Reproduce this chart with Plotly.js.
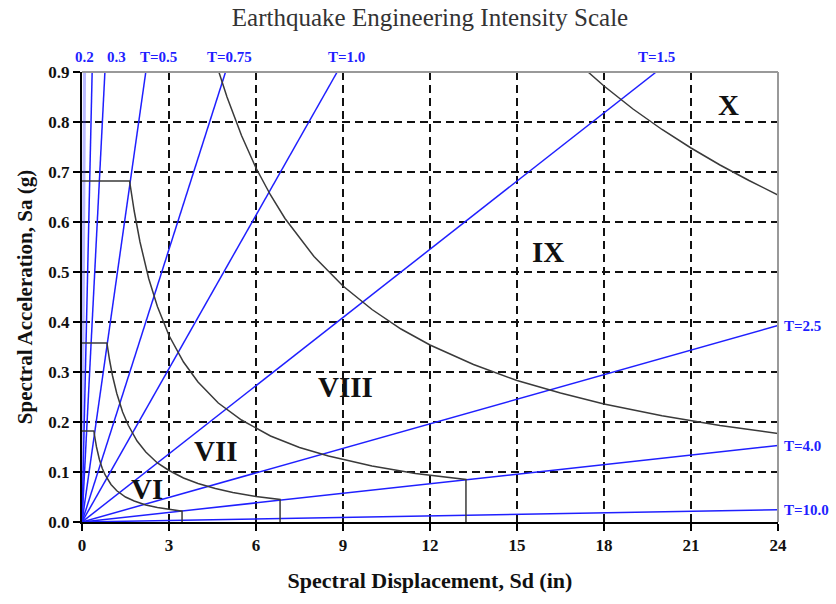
<!DOCTYPE html>
<html>
<head>
<meta charset="utf-8">
<script src="https://cdn.plot.ly/plotly-3.0.1.min.js"></script>
<style>html,body{margin:0;padding:0;background:#fff;}#chart{width:836px;height:604px;}</style>
</head>
<body>
<div id="chart"></div>
<script>
// Period (T) lines: each runs from the origin to its end point
var periodLabels = ['0.2', '0.3', 'T=0.5', 'T=0.75', 'T=1.0', 'T=1.5', 'T=2.5', 'T=4.0', 'T=10.0'];
var periodEndSd = [0.35, 0.79, 2.2, 4.95, 8.8, 19.8, 24, 24, 24];
var periodEndSa = [0.9, 0.9, 0.9, 0.9, 0.9, 0.9, 0.393, 0.153, 0.0245];
// faint unlabeled very short period line near the Sa axis
var faintEndSd = [0.088];
var faintEndSa = [0.9];

// Intensity boundary curves
var curve1Sd = [0, 0.41, 0.45, 0.5, 0.6, 0.7, 0.8, 1.0, 1.2, 1.5, 1.8, 2.2, 2.6, 3.0, 3.45, 3.45];
var curve1Sa = [0.182, 0.182, 0.167, 0.150, 0.125, 0.107, 0.094, 0.075, 0.0625, 0.050, 0.042, 0.034, 0.029, 0.025, 0.0217, 0];
var curve2Sd = [0, 0.86, 0.95, 1.05, 1.2, 1.4, 1.6, 1.9, 2.2, 2.6, 3.0, 3.5, 4.0, 4.6, 5.2, 6.0, 6.83, 6.83];
var curve2Sa = [0.358, 0.358, 0.324, 0.293, 0.257, 0.220, 0.193, 0.162, 0.140, 0.118, 0.103, 0.088, 0.077, 0.067, 0.059, 0.051, 0.045, 0];
var curve3Sd = [0, 1.64, 1.8, 2.0, 2.3, 2.6, 3.0, 3.5, 4.0, 4.7, 5.5, 6.5, 7.5, 8.5, 10, 11.5, 13.24, 13.24];
var curve3Sa = [0.682, 0.682, 0.622, 0.560, 0.487, 0.431, 0.373, 0.320, 0.280, 0.238, 0.204, 0.172, 0.149, 0.132, 0.112, 0.097, 0.085, 0];
var curve4Sd = [4.72, 5.0, 5.5, 6, 6.5, 7, 8, 9, 10, 11, 12, 13.5, 15, 16.5, 18, 20, 22, 24];
var curve4Sa = [0.9, 0.85, 0.773, 0.708, 0.654, 0.607, 0.531, 0.472, 0.425, 0.386, 0.354, 0.315, 0.283, 0.258, 0.236, 0.2125, 0.193, 0.177];
var curve5Sd = [17.45, 18, 19, 20, 21, 22, 23, 24];
var curve5Sa = [0.9, 0.872, 0.826, 0.785, 0.748, 0.714, 0.683, 0.654];

// Intensity zone labels
var zoneLabels = ['VI', 'VII', 'VIII', 'IX', 'X'];
var zoneSd = [2.24, 4.62, 9.07, 16.07, 22.3];
var zoneSa = [0.066, 0.142, 0.27, 0.54, 0.834];

var xTicks = [0, 3, 6, 9, 12, 15, 18, 21, 24];
var yTicks = [0.0, 0.1, 0.2, 0.3, 0.4, 0.5, 0.6, 0.7, 0.8, 0.9];

var SERIF = '"Liberation Serif", "Times New Roman", serif';
var BLUE = '#1f1fff';
var CURVE = '#3a3a3a';

var traces = [];
for (var j = 0; j < faintEndSd.length; j++) {
  traces.push({x: [0, faintEndSd[j]], y: [0, faintEndSa[j]], mode: 'lines',
    line: {color: 'rgba(60,60,255,0.35)', width: 3}, hoverinfo: 'skip', showlegend: false});
}
for (var i = 0; i < periodLabels.length; i++) {
  traces.push({x: [0, periodEndSd[i]], y: [0, periodEndSa[i]], mode: 'lines',
    line: {color: BLUE, width: 1.5}, name: periodLabels[i], showlegend: false});
}
[[curve1Sd, curve1Sa], [curve2Sd, curve2Sa], [curve3Sd, curve3Sa], [curve4Sd, curve4Sa], [curve5Sd, curve5Sa]].forEach(function (c) {
  traces.push({x: c[0], y: c[1], mode: 'lines', line: {color: CURVE, width: 1.5}, showlegend: false});
});

var annotations = [];
var topShift = [-8, 12, 13, 4, 9, 0];
for (var k = 0; k < periodLabels.length; k++) {
  var lab = periodLabels[k];
  var f = {family: SERIF, size: 15, color: BLUE, weight: 'bold'};
  if (periodEndSa[k] >= 0.9) {
    annotations.push({x: periodEndSd[k], y: periodEndSa[k], xref: 'x', yref: 'y', text: '<b>' + lab + '</b>',
      showarrow: false, xanchor: 'center', yanchor: 'bottom', xshift: topShift[k], yshift: 5, font: f});
  } else {
    annotations.push({x: periodEndSd[k], y: periodEndSa[k], xref: 'x', yref: 'y', text: '<b>' + lab + '</b>',
      showarrow: false, xanchor: 'left', yanchor: 'middle', xshift: 4, yshift: 0, font: f});
  }
}
for (var z = 0; z < zoneLabels.length; z++) {
  annotations.push({x: zoneSd[z], y: zoneSa[z], xref: 'x', yref: 'y', text: '<b>' + zoneLabels[z] + '</b>',
    showarrow: false, xanchor: 'center', yanchor: 'middle',
    font: {family: SERIF, size: 29, color: '#111'}});
}

var layout = {
  width: 836, height: 604,
  margin: {l: 82, r: 58, t: 72, b: 82, pad: 0},
  paper_bgcolor: '#fff', plot_bgcolor: '#fff',
  title: {text: 'Earthquake Engineering Intensity Scale', x: 0.5, xref: 'paper', y: 0.971, yanchor: 'middle',
    font: {family: SERIF, size: 25, color: '#333'}},
  xaxis: {range: [0, 24], tickvals: xTicks, ticktext: xTicks.map(String), ticks: 'outside', ticklen: 7, tickwidth: 1.5, tickcolor: '#000',
    showline: true, linecolor: '#000', linewidth: 2, zeroline: false,
    showgrid: true, gridcolor: '#111', gridwidth: 1.5, griddash: '8px,5px',
    tickfont: {family: SERIF, size: 17, color: '#111', weight: 'bold'},
    title: {text: '<b>Spectral Displacement, Sd (in)</b>', standoff: 18, font: {family: SERIF, size: 22, color: '#111'}},
    fixedrange: true},
  yaxis: {range: [0, 0.9], tickvals: yTicks, ticktext: yTicks.map(function (v) { return v.toFixed(1); }), ticks: 'outside', ticklen: 7, tickwidth: 1.5, tickcolor: '#000',
    showline: true, linecolor: '#000', linewidth: 2, zeroline: false,
    showgrid: true, gridcolor: '#111', gridwidth: 1.5, griddash: '8px,5px',
    tickfont: {family: SERIF, size: 17, color: '#111', weight: 'bold'},
    title: {text: '<b>Spectral Acceleration, Sa (g)</b>', standoff: 10, font: {family: SERIF, size: 21, color: '#111'}},
    fixedrange: true},
  shapes: [
    {type: 'line', xref: 'paper', yref: 'paper', x0: 0, x1: 1, y0: 1, y1: 1, line: {color: '#999', width: 2}, layer: 'above'},
    {type: 'line', xref: 'paper', yref: 'paper', x0: 1, x1: 1, y0: 0, y1: 1, line: {color: '#999', width: 2}, layer: 'above'}
  ],
  annotations: annotations,
  showlegend: false
};

Plotly.newPlot('chart', traces, layout, {displayModeBar: false, staticPlot: true});
</script>
</body>
</html>
